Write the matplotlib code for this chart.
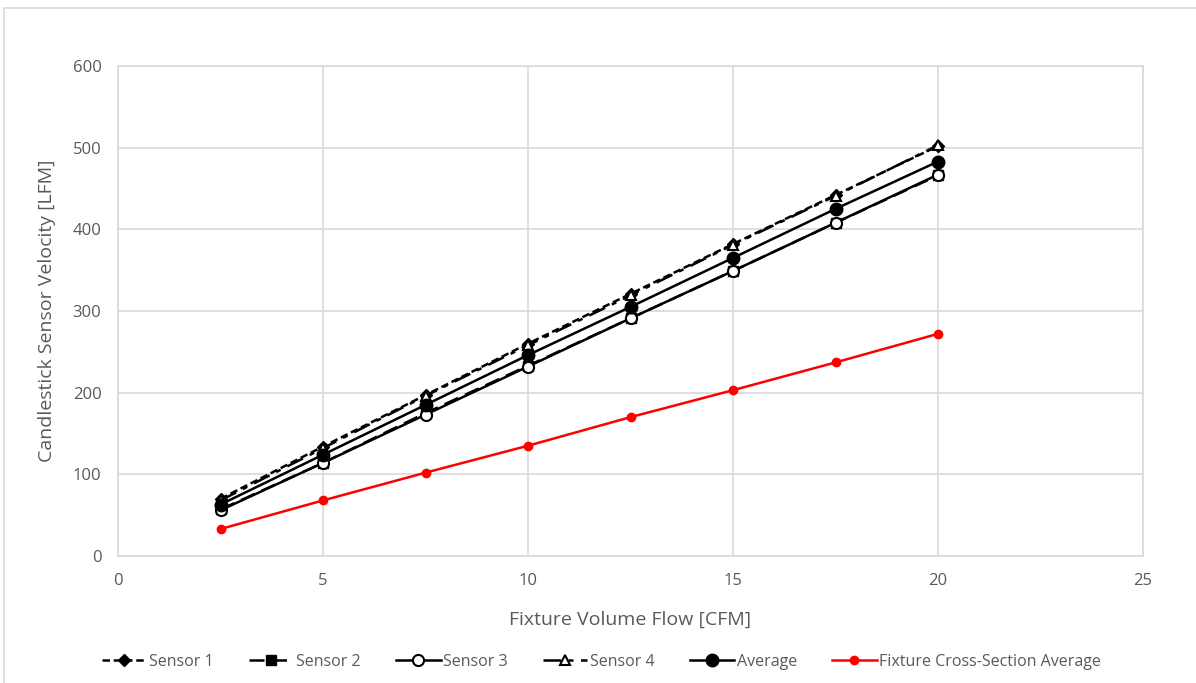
import matplotlib.pyplot as plt
from matplotlib.patches import Rectangle

plt.rcParams['font.family'] = ['Open Sans', 'DejaVu Sans']

flow = [2.5, 5, 7.5, 10, 12.5, 15, 17.5, 20]
sensor1 = [70, 134, 197, 260, 321, 382, 442, 502]
sensor2 = [57, 114, 175, 233, 291, 349, 408, 466]
sensor3 = [56, 114, 173, 232, 291, 349, 408, 467]
sensor4 = [68, 132, 196, 258, 319, 381, 441, 503]
average = [63, 124, 185, 246, 305, 365, 425, 483]
fixture = [33, 68, 102, 135, 170, 203, 237, 272]

fig = plt.figure(figsize=(11.96, 6.83), dpi=100)
ax = fig.add_axes([0.0987, 0.186, 0.857, 0.7174])

grey = '#d9d9d9'
txt = '#595959'

ax.plot(flow, sensor1, color='black', lw=1.8, ls=(0, (3, 1.5)), marker='D', ms=6, label='Sensor 1')
ax.plot(flow, sensor2, color='black', lw=1.8, ls=(0, (6, 3)), marker='s', ms=7, label='Sensor 2')
ax.plot(flow, sensor3, color='black', lw=1.8, ls='-', marker='o', ms=8, mfc='white', mew=1.5, label='Sensor 3')
ax.plot(flow, sensor4, color='black', lw=1.8, ls=(0, (7, 3, 2, 3)), marker='^', ms=7, mfc='white', mew=1.5, label='Sensor 4')
ax.plot(flow, average, color='black', lw=1.8, ls='-', marker='o', ms=9, label='Average')
ax.plot(flow, fixture, color='#ff0000', lw=1.8, marker='o', ms=6, label='Fixture Cross-Section Average')

ax.set_xlim(0, 25)
ax.set_ylim(0, 600)
ax.set_xticks([0, 5, 10, 15, 20, 25])
ax.set_yticks(range(0, 601, 100))
ax.grid(True, color=grey, lw=1.2)
ax.set_axisbelow(True)
for s in ax.spines.values():
    s.set_color(grey)
    s.set_linewidth(1.2)
ax.tick_params(length=0, labelsize=12, colors=txt, pad=12)

ax.set_xlabel('Fixture Volume Flow [CFM]', fontsize=14, color=txt, labelpad=16)
ax.set_ylabel('Candlestick Sensor Velocity [LFM]', fontsize=14, color=txt, labelpad=12)

leg = ax.legend(loc='center', bbox_to_anchor=(0.503, 0.031), bbox_transform=fig.transFigure,
                ncol=6, frameon=False, fontsize=11.5, labelcolor=txt, handlelength=2.8,
                columnspacing=2.2, handletextpad=0.15)

fig.patches.append(Rectangle((0.003, -0.01), 1.1, 0.998, transform=fig.transFigure,
                             fill=False, edgecolor=grey, lw=1.2))

fig.savefig('out.png', dpi=100)
